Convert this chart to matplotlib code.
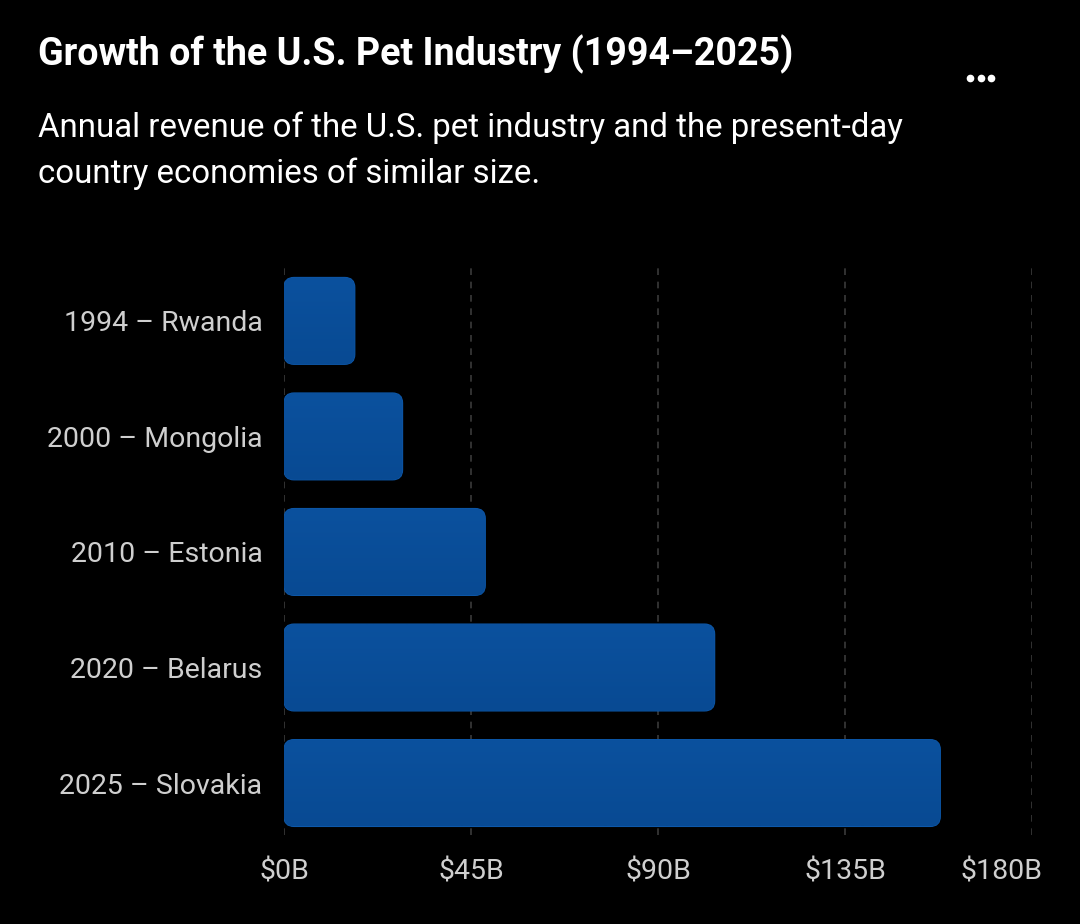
import numpy as np
import matplotlib
matplotlib.use('Agg')
import matplotlib.pyplot as plt
import matplotlib.transforms as mtransforms
from matplotlib.patches import FancyBboxPatch
from matplotlib.lines import Line2D

plt.rcParams['font.family'] = ['Roboto', 'DejaVu Sans']

# data (billions USD)
labels = ['1994 \u2013 Rwanda', '2000 \u2013 Mongolia', '2010 \u2013 Estonia',
          '2020 \u2013 Belarus', '2025 \u2013 Slovakia']
revenue = [17.0, 28.5, 48.4, 103.6, 157.9]
xticks = [0, 45, 90, 135, 180]
xtick_labels = ['$0B', '$45B', '$90B', '$135B', '$180B']

BG = '#000000'
TOP = np.array([0x0b, 0x51, 0x9e]) / 255.0
BOT = np.array([0x08, 0x4a, 0x93]) / 255.0

fig = plt.figure(figsize=(10.8, 9.24), dpi=100, facecolor=BG)
ax = fig.add_axes([0.263, 0.0963, 0.6926, 0.6202], facecolor=BG)

ax.set_xlim(0, 180)
ax.set_ylim(4.45, -0.51)

# gradient image reused for every bar
grad = np.linspace(0, 1, 64)[:, None]
grad_img = TOP[None, None, :] * (1 - grad[..., None]) + BOT[None, None, :] * grad[..., None]

bar_h = 0.75
# ratio between x and y data units in pixels
px_x = 748 / 180.0
px_y = 115.5
aspect = px_x / px_y
for i, v in enumerate(revenue):
    y0 = i - bar_h / 2
    patch = FancyBboxPatch((0, y0), v, bar_h,
                           boxstyle='round,pad=0,rounding_size=2.4',
                           mutation_aspect=aspect,
                           facecolor=TOP, edgecolor='#0d58aa', linewidth=1.0,
                           zorder=3)
    ax.add_patch(patch)
    im = ax.imshow(grad_img, extent=(0, v, y0 + bar_h, y0), aspect='auto',
                   zorder=3.5, interpolation='bilinear')
    im.set_clip_path(patch)

ax.set_xlim(0, 180)
ax.set_ylim(4.45, -0.51)

ax.set_yticks(range(len(labels)))
ax.set_yticklabels(labels)
ax.set_xticks(xticks)
ax.set_xticklabels(xtick_labels)
ax.tick_params(axis='both', length=0, colors='#cfcfcf', labelsize=20.5)
ax.tick_params(axis='y', pad=15.5)
ax.tick_params(axis='x', pad=17)

# last x label is kept inside the figure
last = ax.get_xticklabels()[-1]
last.set_ha('right')
last.set_transform(last.get_transform() +
                   mtransforms.ScaledTranslation(10 / 100, 0, fig.dpi_scale_trans))

for x in xticks:
    ax.axvline(x, color='#3a3a3a', linestyle=(0, (4, 4)), linewidth=1.2, zorder=1)

for s in ax.spines.values():
    s.set_visible(False)

fig.text(0.035, 0.941, 'Growth of the U.S. Pet Industry (1994\u20132025)',
         color='white', fontsize=27.1, fontweight='bold', va='center', ha='left')
fig.text(0.035, 0.862, 'Annual revenue of the U.S. pet industry and the present-day',
         color='white', fontsize=23.8, va='center', ha='left')
fig.text(0.035, 0.812, 'country economies of similar size.',
         color='white', fontsize=23.8, va='center', ha='left')

# menu dots
fig.add_artist(Line2D([0.898, 0.908, 0.918], [0.9156, 0.9156, 0.9156],
                      transform=fig.transFigure, linestyle='none',
                      marker='o', markersize=4.5, color='white'))

fig.savefig('out.png', dpi=100, facecolor=BG)
